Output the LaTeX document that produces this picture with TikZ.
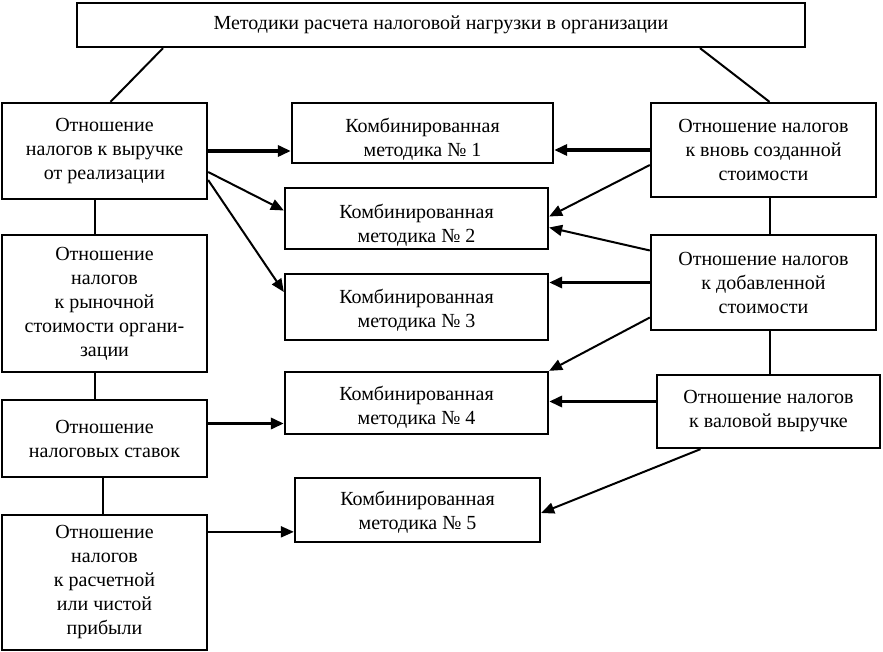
\documentclass[tikz,border=0pt]{standalone}
\usepackage{fontspec}
\setmainfont{Liberation Serif}
\usetikzlibrary{arrows.meta}

\begin{document}
\begin{tikzpicture}[x=1pt,y=-1pt,>={Triangle[length=13pt,width=11pt]},
  box/.style={draw,line width=2.3pt,inner sep=0pt,align=center,
    font=\fontsize{20}{24}\selectfont},
  link/.style={line width=2pt},
  thin arrow/.style={->,line width=2pt},
  thick arrow/.style={->,line width=3.8pt}]
  \useasboundingbox (0,0) rectangle (883,652);

  \node[box,minimum width=728pt,minimum height=44pt] (title) at (441,25)
    {Методики расчета налоговой нагрузки в организации};

  % left column
  \node[box,minimum width=205pt,minimum height=96pt]  (l1) at (104.5,151)
    {Отношение\\налогов к выручке\\от реализации};
  \node[box,minimum width=205pt,minimum height=137pt] (l2) at (104.5,303.5)
    {Отношение\\налогов\\к рыночной\\стоимости органи-\\зации};
  \node[box,minimum width=205pt,minimum height=77pt]  (l3) at (104.5,438.5)
    {Отношение\\налоговых ставок};
  \node[box,minimum width=205pt,minimum height=135pt] (l4) at (104.5,582.5)
    {Отношение\\налогов\\к расчетной\\или чистой\\прибыли};

  % middle column
  \node[box,minimum width=261pt,minimum height=60pt] (m1) at (422.5,133)
    {\rule{0pt}{26pt}Комбинированная\\методика № 1};
  \node[box,minimum width=263pt,minimum height=61pt] (m2) at (416.5,218.5)
    {\rule{0pt}{28pt}Комбинированная\\методика № 2};
  \node[box,minimum width=263pt,minimum height=66pt] (m3) at (416.5,307)
    {\rule{0pt}{20pt}Комбинированная\\методика № 3};
  \node[box,minimum width=263pt,minimum height=62pt] (m4) at (416.5,403)
    {\rule{0pt}{22pt}Комбинированная\\методика № 4};
  \node[box,minimum width=245pt,minimum height=64pt] (m5) at (417.5,510)
    {\rule{0pt}{18pt}Комбинированная\\методика № 5};

  % right column
  \node[box,minimum width=225pt,minimum height=94pt] (r1) at (763.5,150)
    {Отношение налогов\\к вновь созданной\\стоимости};
  \node[box,minimum width=225pt,minimum height=95pt] (r2) at (763.5,282.5)
    {Отношение налогов\\к добавленной\\стоимости};
  \node[box,minimum width=223pt,minimum height=73pt] (r3) at (768.5,411.5)
    {Отношение налогов\\к валовой выручке};

  % plain links
  \draw[link] ([xshift=-278pt]title.south) -- ([xshift=6pt]l1.north);
  \draw[link] ([xshift=259pt]title.south) -- ([xshift=6pt]r1.north);
  \draw[link] ([xshift=-10pt]l1.south) -- ([xshift=-10pt]l2.north);
  \draw[link] ([xshift=-10pt]l2.south) -- ([xshift=-10pt]l3.north);
  \draw[link] ([xshift=-2pt]l3.south) -- ([xshift=-2pt]l4.north);
  \draw[link] ([xshift=6pt]r1.south) -- ([xshift=6pt]r2.north);
  \draw[link] ([xshift=6pt]r2.south) -- ([xshift=6pt]r2.south |- r3.north);

  % arrows from the left
  \draw[thick arrow] (l1.east) -- (l1.east -| m1.west);
  \draw[thin arrow] ([yshift=-21pt]l1.east) -- ([yshift=8pt]m2.west);
  \draw[thin arrow] ([yshift=-29pt]l1.east) -- ([yshift=15pt]m3.west);
  \draw[thick arrow] ([yshift=15pt]l3.east) -- ([yshift=15pt]l3.east -| m4.west);
  \draw[thin arrow] ([yshift=-18pt]l4.north east) -- ([yshift=-18pt]l4.north east -| m5.west);

  % arrows from the right
  \draw[thick arrow] (r1.west) -- (r1.west -| m1.east);
  \draw[thin arrow] ([yshift=-15pt]r1.west) -- ([yshift=2pt]m2.east);
  \draw[thin arrow] ([yshift=32pt]r2.west) -- ([yshift=-9pt]m2.east);
  \draw[thick arrow] (r2.west) -- (r2.west -| m3.east);
  \draw[thin arrow] ([yshift=-35pt]r2.west) -- (m4.north east);
  \draw[thick arrow] ([yshift=10pt]r3.west) -- ([yshift=10pt]r3.west -| m4.east);
  \draw[thin arrow] ([xshift=-68pt]r3.south) -- ([yshift=-3pt]m5.east);
\end{tikzpicture}
\end{document}
